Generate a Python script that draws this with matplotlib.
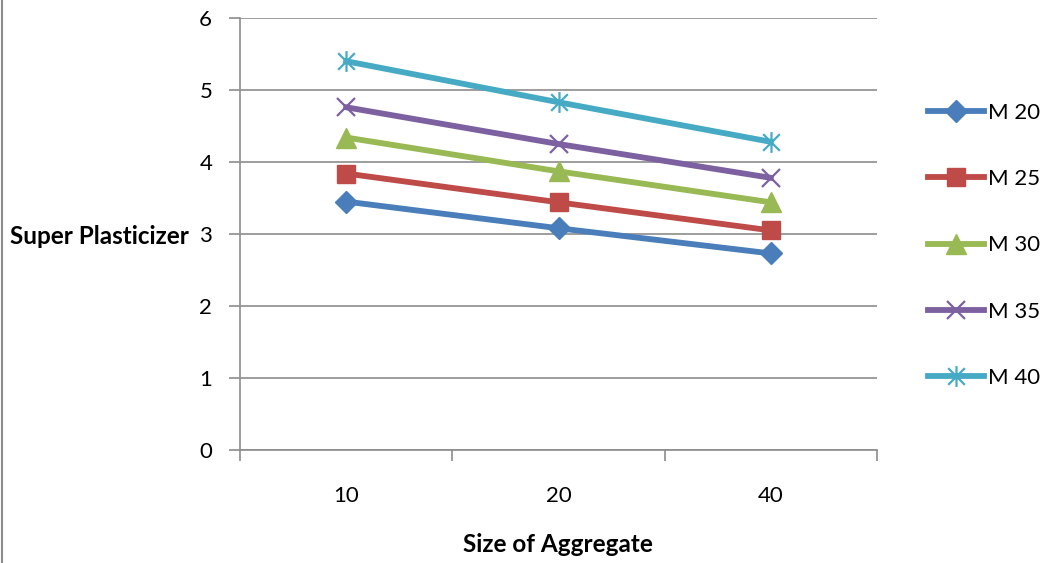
import matplotlib.pyplot as plt
from matplotlib.path import Path
from matplotlib.lines import Line2D

plt.rcParams['font.family'] = ['Lato', 'DejaVu Sans']

sizes = ['10', '20', '40']
series_names = ['M 20', 'M 25', 'M 30', 'M 35', 'M 40']
m20 = [3.45, 3.08, 2.73]
m25 = [3.84, 3.44, 3.05]
m30 = [4.34, 3.87, 3.44]
m35 = [4.76, 4.25, 3.78]
m40 = [5.40, 4.83, 4.28]

colors = ['#4A7EBB', '#BE4B48', '#98B954', '#7D60A0', '#46AAC5']

# Excel-style star: an x with a vertical bar through it
star = Path([(-1, -1), (1, 1), (-1, 1), (1, -1), (0, -1.25), (0, 1.25)],
            [Path.MOVETO, Path.LINETO, Path.MOVETO, Path.LINETO,
             Path.MOVETO, Path.LINETO])

styles = [
    dict(marker='D', markersize=11),
    dict(marker='s', markersize=13),
    dict(marker='^', markersize=14),
    dict(marker='x', markersize=13, markeredgewidth=1.6),
    dict(marker=star, markersize=15, markeredgewidth=1.6),
]

fig = plt.figure(figsize=(10.52, 5.63), dpi=100)
ax = fig.add_axes([240 / 1052, 1 - 450 / 563, 637 / 1052, 432 / 563])

x = list(range(len(sizes)))
for name, vals, col, st in zip(series_names, [m20, m25, m30, m35, m40],
                               colors, styles):
    ax.plot(x, vals, color=col, linewidth=4.2, label=name,
            markerfacecolor=col, markeredgecolor=col, **st)

ax.set_xlim(-0.5, 2.5)
ax.set_ylim(0, 6)
ax.set_yticks(range(0, 7))
ax.grid(axis='y', color='#8c8c8c', linewidth=1.2)
ax.set_axisbelow(True)

# category dividers as major ticks, labels on minor ticks
ax.set_xticks([-0.5, 0.5, 1.5, 2.5])
ax.set_xticklabels([])
ax.set_xticks(x, minor=True)
ax.set_xticklabels(sizes, minor=True)
ax.tick_params(axis='x', which='major', direction='out', length=8,
               color='#8c8c8c', width=1.2)
ax.tick_params(axis='x', which='minor', length=0, pad=26, labelsize=16)
ax.tick_params(axis='y', direction='out', length=8, color='#8c8c8c',
               width=1.2, labelsize=16, pad=12)

for s in ['top', 'right']:
    ax.spines[s].set_visible(False)
for s in ['left', 'bottom']:
    ax.spines[s].set_color('#8c8c8c')
    ax.spines[s].set_linewidth(1.2)

fig.text(10 / 1052, 1 - 236 / 563, 'Super Plasticizer', fontsize=17.5,
         fontweight='bold', ha='left', va='center')
fig.text(558 / 1052, 1 - 545 / 563, 'Size of Aggregate', fontsize=17.5,
         fontweight='bold', ha='center', va='center')

ax.legend(loc='upper left', bbox_to_anchor=((928 - 240) / 637, (450 - 103) / 432),
          frameon=False, fontsize=16, handlelength=2.5, labelspacing=2.08,
          handletextpad=0.2, borderaxespad=0, borderpad=0)

fig.add_artist(Line2D([2 / 1052, 2 / 1052], [0, 1], color='#8c8c8c',
                      linewidth=1.5))

fig.savefig('out.png', dpi=100)
